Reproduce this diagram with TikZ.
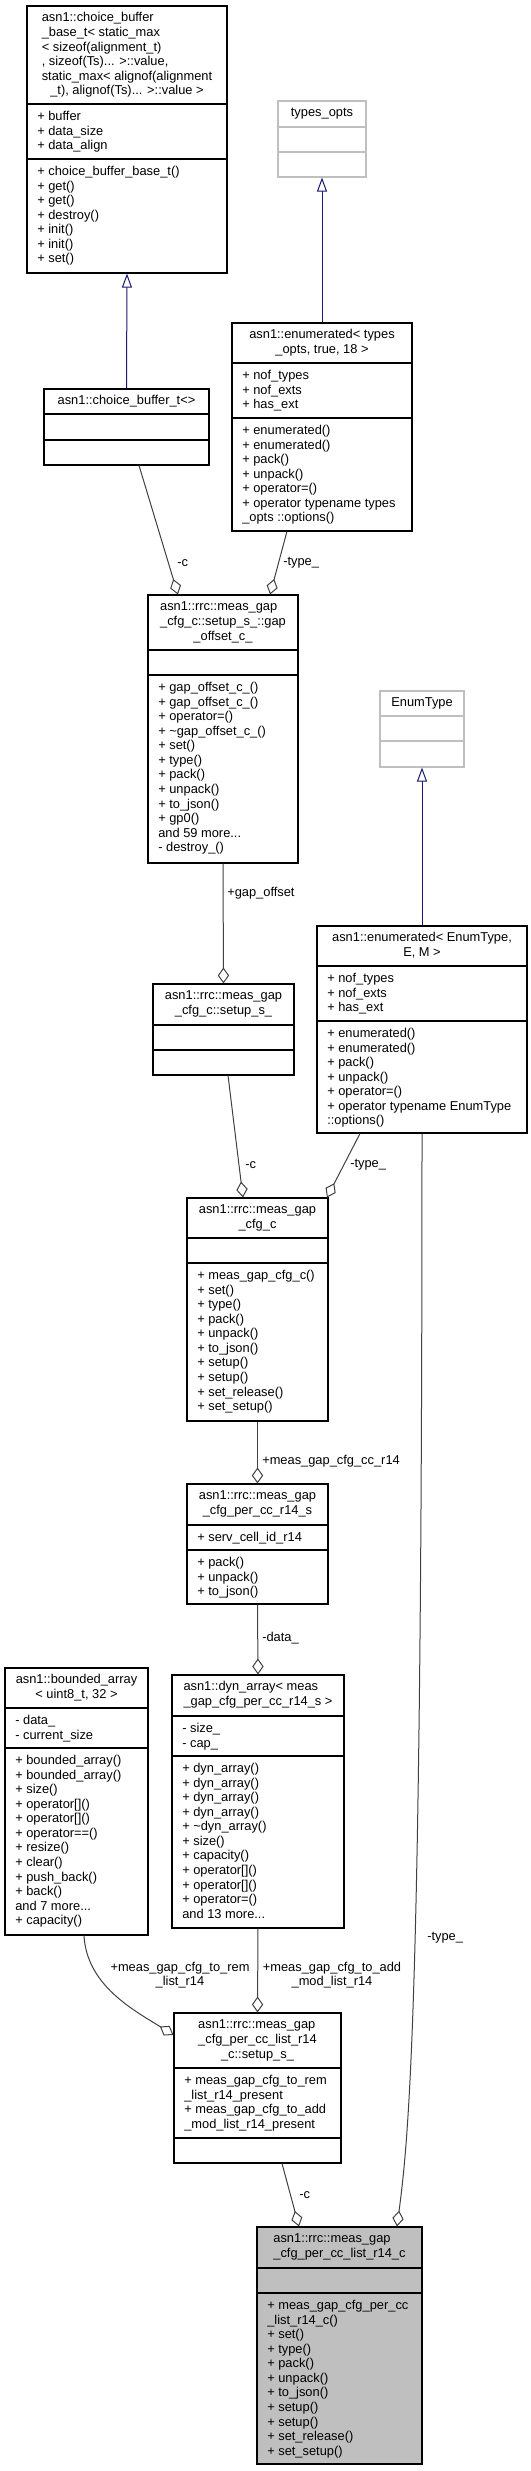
\documentclass[tikz,border=0pt]{standalone}
\usepackage{fontspec}
\setmainfont{Liberation Sans}
\usetikzlibrary{arrows.meta,fit,positioning}
\definecolor{grey75}{HTML}{BFBFBF}
\definecolor{grey25}{HTML}{404040}
\definecolor{midnight}{HTML}{191970}

\tikzset{
  every node/.append style={font=\fontsize{9.64}{10.93}\selectfont},
  umlbox/.style={draw=black, fill=white, line width=0.8pt, inner sep=0pt},
  extbox/.style={umlbox, draw=grey75},
  focusbox/.style={umlbox, fill=grey75},
  ttl/.style={inner sep=0pt, anchor=north},
  mem/.style={ttl, anchor=north west},
  lbl/.style={inner sep=0pt, anchor=west},
  uses/.style={draw=grey25, line width=0.75pt, -{Diamond[open, length=12pt, width=8.5pt]}},
  inherits/.style={draw=midnight, line width=0.75pt, -{Triangle[open, length=10.5pt, width=7.5pt]}},
}

% class frame: name, style, left, top, right, sep1, sep2, bottom
\newcommand{\classbox}[8]{%
  \node[#2, fit={(#3,#4) (#5,#8)}] (#1) {};
  \draw[#2, fill=none] (#3,#6) -- (#5,#6) (#3,#7) -- (#5,#7);
}
\newcommand{\rows}[1]{\begin{tabular}{@{}l@{}}#1\end{tabular}}
\newcommand{\ctr}[1]{\multicolumn{1}{@{}c@{}}{#1}}

\begin{document}
\begin{tikzpicture}[x=0.75pt, y=-0.75pt]
    \useasboundingbox (0,0) rectangle (531,2471);

    % choice buffer base
    \classbox{cbbase}{umlbox}{27}{6}{227}{104}{159}{273}
    \node[ttl, below=4.5pt of cbbase.north] (cbbase-t) {\rows{asn1::choice\_buffer\\ \_base\_t< static\_max\\ < sizeof(alignment\_t)\\ , sizeof(Ts)... >::value,\\ \ctr{ static\_max< alignof(alignment}\\ \ctr{\_t), alignof(Ts)... >::value >}}};
    \node[mem] (cbbase-a) at (37,110) {\rows{+ buffer\\ + data\_size\\ + data\_align}};
    \node[mem] (cbbase-m) at (37,165) {\rows{+ choice\_buffer\_base\_t()\\ + get()\\ + get()\\ + destroy()\\ + init()\\ + init()\\ + set()}};

    \classbox{topts}{extbox}{278}{101}{366}{127}{152}{177}
    \node[ttl, below=4.5pt of topts.north] (topts-t) {\rows{types\_opts}};

    \classbox{enumt}{umlbox}{232}{323}{412}{363}{418}{531}
    \node[ttl, below=4.5pt of enumt.north] (enumt-t) {\rows{asn1::enumerated< types\\ \ctr{\_opts, true, 18 >}}};
    \node[mem] (enumt-a) at (242,369) {\rows{+ nof\_types\\ + nof\_exts\\ + has\_ext}};
    \node[mem] (enumt-m) at (242,424) {\rows{+ enumerated()\\ + enumerated()\\ + pack()\\ + unpack()\\ + operator=()\\ + operator typename types\\ \_opts ::options()}};

    \classbox{dcls}{umlbox}{44}{389}{209}{414}{440}{465}
    \node[ttl, below=4.5pt of dcls.north] (dcls-t) {\rows{asn1::choice\_buffer\_t<>}};

    \classbox{gapoff}{umlbox}{148}{595}{298}{650}{675}{863}
    \node[ttl, below=4.5pt of gapoff.north] (gapoff-t) {\rows{asn1::rrc::meas\_gap\\ \_cfg\_c::setup\_s\_::gap\\ \ctr{\_offset\_c\_}}};
    \node[mem] (gapoff-m) at (158,681) {\rows{+ gap\_offset\_c\_()\\ + gap\_offset\_c\_()\\ + operator=()\\ + \textasciitilde{}gap\_offset\_c\_()\\ + set()\\ + type()\\ + pack()\\ + unpack()\\ + to\_json()\\ + gp0()\\ and 59 more...\\ - destroy\_()}};

    \classbox{setupa}{umlbox}{153}{984}{294}{1025}{1050}{1075}
    \node[ttl, below=4.5pt of setupa.north] (setupa-t) {\rows{asn1::rrc::meas\_gap\\ \ctr{\_cfg\_c::setup\_s\_}}};

    \classbox{enumty}{extbox}{380}{691}{464}{716}{741}{767}
    \node[ttl, below=4.5pt of enumty.north] (enumty-t) {\rows{EnumType}};

    \classbox{enume}{umlbox}{317}{926}{527}{966}{1021}{1133}
    \node[ttl, below=4.5pt of enume.north] (enume-t) {\rows{asn1::enumerated< EnumType,\\ \ctr{E, M >}}};
    \node[mem] (enume-a) at (327,972) {\rows{+ nof\_types\\ + nof\_exts\\ + has\_ext}};
    \node[mem] (enume-m) at (327,1027) {\rows{+ enumerated()\\ + enumerated()\\ + pack()\\ + unpack()\\ + operator=()\\ + operator typename EnumType\\ ::options()}};

    \classbox{cfgc}{umlbox}{187}{1198}{328}{1238}{1263}{1421}
    \node[ttl, below=4.5pt of cfgc.north] (cfgc-t) {\rows{asn1::rrc::meas\_gap\\ \ctr{\_cfg\_c}}};
    \node[mem] (cfgc-m) at (197,1269) {\rows{+ meas\_gap\_cfg\_c()\\ + set()\\ + type()\\ + pack()\\ + unpack()\\ + to\_json()\\ + setup()\\ + setup()\\ + set\_release()\\ + set\_setup()}};

    \classbox{percc}{umlbox}{187}{1484}{328}{1525}{1550}{1604}
    \node[ttl, below=4.5pt of percc.north] (percc-t) {\rows{asn1::rrc::meas\_gap\\ \ctr{\_cfg\_per\_cc\_r14\_s}}};
    \node[mem] (percc-a) at (197,1531) {\rows{+ serv\_cell\_id\_r14}};
    \node[mem] (percc-m) at (197,1556) {\rows{+ pack()\\ + unpack()\\ + to\_json()}};

    \classbox{dyn}{umlbox}{172}{1675}{344}{1716}{1756}{1928}
    \node[ttl, below=4.5pt of dyn.north] (dyn-t) {\rows{asn1::dyn\_array< meas\\ \ctr{\_gap\_cfg\_per\_cc\_r14\_s >}}};
    \node[mem] (dyn-a) at (182,1722) {\rows{- size\_\\ - cap\_}};
    \node[mem] (dyn-m) at (182,1762) {\rows{+ dyn\_array()\\ + dyn\_array()\\ + dyn\_array()\\ + dyn\_array()\\ + \textasciitilde{}dyn\_array()\\ + size()\\ + capacity()\\ + operator[]()\\ + operator[]()\\ + operator=()\\ and 13 more...}};

    \classbox{bnd}{umlbox}{5}{1668}{148}{1708}{1748}{1935}
    \node[ttl, below=4.5pt of bnd.north] (bnd-t) {\rows{asn1::bounded\_array\\ \ctr{< uint8\_t, 32 >}}};
    \node[mem] (bnd-a) at (15,1714) {\rows{- data\_\\ - current\_size}};
    \node[mem] (bnd-m) at (15,1754) {\rows{+ bounded\_array()\\ + bounded\_array()\\ + size()\\ + operator[]()\\ + operator[]()\\ + operator==()\\ + resize()\\ + clear()\\ + push\_back()\\ + back()\\ and 7 more...\\ + capacity()}};

    \classbox{setupb}{umlbox}{174}{2013}{341}{2068}{2138}{2163}
    \node[ttl, below=4.5pt of setupb.north] (setupb-t) {\rows{asn1::rrc::meas\_gap\\ \_cfg\_per\_cc\_list\_r14\\ \ctr{\_c::setup\_s\_}}};
    \node[mem] (setupb-a) at (184,2074) {\rows{+ meas\_gap\_cfg\_to\_rem\\ \_list\_r14\_present\\ + meas\_gap\_cfg\_to\_add\\ \_mod\_list\_r14\_present}};

    \classbox{focus}{focusbox}{257}{2227}{422}{2268}{2293}{2464}
    \node[ttl, below=4.5pt of focus.north] (focus-t) {\rows{asn1::rrc::meas\_gap\\ \ctr{\_cfg\_per\_cc\_list\_r14\_c}}};
    \node[mem] (focus-m) at (267,2299) {\rows{+ meas\_gap\_cfg\_per\_cc\\ \_list\_r14\_c()\\ + set()\\ + type()\\ + pack()\\ + unpack()\\ + to\_json()\\ + setup()\\ + setup()\\ + set\_release()\\ + set\_setup()}};

    % inheritance
    \draw[inherits] (dcls.north) -- (cbbase.south);
    \draw[inherits] (enumt.north) -- (topts.south);
    \draw[inherits] (enume.north) -- (enumty.south);

    % usage
    \draw[uses] ([xshift=9.4pt]dcls.south) -- ([xshift=-33.8pt]gapoff.north);
    \draw[uses] ([xshift=-26.3pt]enumt.south) -- ([xshift=35.3pt]gapoff.north);
    \draw[uses] (gapoff.south) -- (setupa.north);
    \draw[uses] ([xshift=3.4pt]setupa.south) -- ([xshift=-10.9pt]cfgc.north);
    \draw[uses] ([xshift=-46.5pt]enume.south) -- ([xshift=52.1pt]cfgc.north);
    \draw[uses] (cfgc.south) -- (percc.north);
    \draw[uses] (percc.south) -- (dyn.north);
    \draw[uses] (dyn.south) -- (setupb.north);
    \draw[uses] ([xshift=5.6pt]bnd.south) .. controls +(3,50) and +(-40,-25) .. ([yshift=39.8pt]setupb.west);
    \draw[uses] ([xshift=18.4pt]setupb.south) -- ([xshift=-30.4pt]focus.north);
    \draw[uses] (enume.south) .. controls +(0,870) and +(12,-90) .. ([xshift=43.1pt]focus.north);

    \node[lbl] (l-c1) at (177,563) {-c};
    \node[lbl] (l-type1) at (283,563) {-type\_};
    \node[lbl] (l-gap) at (227,893) {+gap\_offset};
    \node[lbl] (l-c2) at (245,1165) {-c};
    \node[lbl] (l-type2) at (350,1165) {-type\_};
    \node[lbl] (l-cc) at (262,1461) {+meas\_gap\_cfg\_cc\_r14};
    \node[lbl] (l-data) at (262,1638) {-data\_};
    \node[lbl, anchor=center, align=center] (l-rem) at (180,1975) {+meas\_gap\_cfg\_to\_rem\\ \_list\_r14};
    \node[lbl, anchor=center, align=center] (l-add) at (332,1975) {+meas\_gap\_cfg\_to\_add\\ \_mod\_list\_r14};
    \node[lbl] (l-c3) at (299,2195) {-c};
    \node[lbl] (l-type3) at (427,1938) {-type\_};

\end{tikzpicture}
\end{document}
